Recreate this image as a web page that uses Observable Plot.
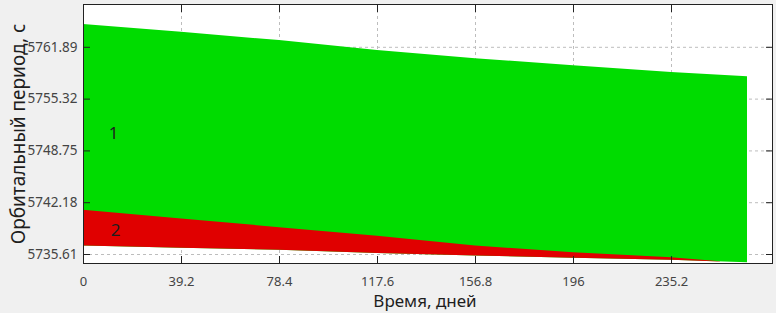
<!DOCTYPE html>
<html><head><meta charset="utf-8">
<script src="https://cdn.jsdelivr.net/npm/d3@7"></script>
<script src="https://cdn.jsdelivr.net/npm/@observablehq/plot@0.6"></script>
<style>html,body{margin:0;padding:0;background:#f0f0f0;overflow:hidden;}</style>
</head><body><div id="chart"></div>
<script>
const days = [0, 39.2, 78.4, 117.6, 156.8, 196, 235.2, 265.6];
const greenTop = [5764.78, 5763.80, 5762.74, 5761.47, 5760.45, 5759.56, 5758.71, 5758.17];
const greenBottom = [5736.69, 5736.40, 5736.14, 5735.74, 5735.42, 5735.13, 5734.87, 5734.57];
const redDays = [0, 39.2, 78.4, 117.6, 156.8, 196, 235.2, 254.8];
const redTop = [5741.23, 5740.12, 5739.02, 5737.92, 5736.69, 5735.84, 5735.20, 5734.70];
const redBottom = [5736.69, 5736.40, 5736.14, 5735.74, 5735.42, 5735.13, 5734.87, 5734.65];
const xTicks = [0, 39.2, 78.4, 117.6, 156.8, 196, 235.2];
const yTicks = [5735.61, 5742.18, 5748.75, 5755.32, 5761.89];
const seriesNames = ["1", "2"];
const seriesNameX = [12, 12.8];
const seriesNameY = [5750.9, 5738.7];
const xTitle = "Время, дней";
const yTitle = "Орбитальный период, с";

const green = days.map((d, i) => ({day: d, top: greenTop[i], bottom: greenBottom[i]}));
const red = redDays.map((d, i) => ({day: d, top: redTop[i], bottom: redBottom[i]}));
const names = seriesNames.map((t, i) => ({t, x: seriesNameX[i], y: seriesNameY[i]}));

const grid = {stroke: "#bdbdbd", strokeOpacity: 1, strokeDasharray: "3,3"};
const chart = Plot.plot({
  width: 776, height: 313,
  marginLeft: 83, marginRight: 4, marginTop: 4, marginBottom: 50,
  style: {background: "transparent", fontFamily: "'Noto Sans', sans-serif", fontSize: "13px", color: "#333", overflow: "visible"},
  x: {domain: [0, 275.6]},
  y: {domain: [5734.47, 5767.32]},
  marks: [
    Plot.frame({fill: "white", stroke: null}),
    Plot.gridX(xTicks, grid),
    Plot.gridY(yTicks, grid),
    Plot.areaY(green, {x: "day", y1: "bottom", y2: "top", fill: "#00dc00"}),
    Plot.areaY(red, {x: "day", y1: "bottom", y2: "top", fill: "#e00000"}),
    Plot.text(names, {x: "x", y: "y", text: "t", fontSize: 17, fill: "#1e1e1e"}),
    Plot.axisX(xTicks, {anchor: "bottom", tickSize: 7, dy: -7, tickFormat: () => "", label: null, stroke: "#222"}),
    Plot.axisX(xTicks, {anchor: "top", tickSize: 7, dy: 7, tickFormat: () => "", label: null, stroke: "#222"}),
    Plot.axisY(yTicks, {anchor: "left", tickSize: 7, dx: 7, tickFormat: () => "", label: null, stroke: "#222"}),
    Plot.axisY(yTicks, {anchor: "right", tickSize: 7, dx: -7, tickFormat: () => "", label: null, stroke: "#222"}),
    Plot.axisX(xTicks, {anchor: "bottom", tickSize: 0, tickPadding: 13, tickFormat: d => String(d), label: null, fill: "#444", fontSize: 13}),
    Plot.axisY(yTicks, {anchor: "left", tickSize: 0, tickPadding: 6, tickFormat: d => d.toFixed(2), label: null, fill: "#444", fontSize: 13.5}),
    Plot.text([xTitle], {frameAnchor: "bottom", dy: 38, dx: -3, lineAnchor: "middle", textAnchor: "middle", fontSize: 17, fill: "#1e1e1e"}),
    Plot.text([yTitle], {frameAnchor: "left", dx: -65, rotate: -90, lineAnchor: "middle", textAnchor: "middle", fontSize: 19, fill: "#1e1e1e"}),
    Plot.frame({stroke: "#222", strokeWidth: 1})
  ]
});
document.getElementById("chart").appendChild(chart);
</script>
</body></html>
